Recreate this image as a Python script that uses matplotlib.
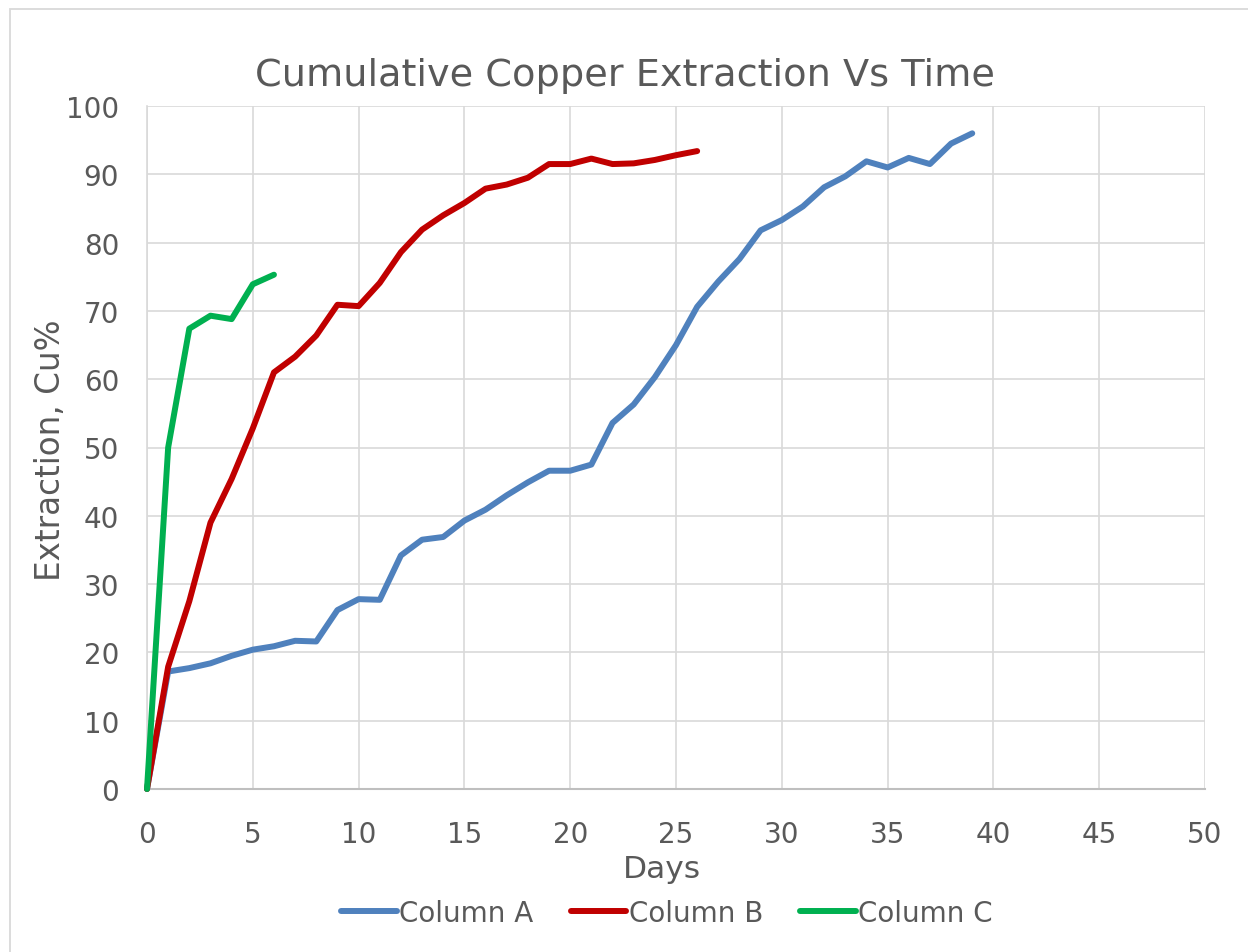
import matplotlib
matplotlib.use('Agg')
import matplotlib.pyplot as plt
from matplotlib.patches import Rectangle

plt.rcParams['font.family'] = ['DejaVu Sans']

# data
days_a = list(range(40))
col_a = [0, 17.2, 17.7, 18.4, 19.5, 20.4, 20.9, 21.7, 21.6, 26.2,
         27.8, 27.7, 34.2, 36.5, 36.9, 39.3, 40.9, 43.0, 44.9, 46.6,
         46.6, 47.5, 53.6, 56.3, 60.3, 65.0, 70.6, 74.3, 77.6, 81.8,
         83.3, 85.3, 88.1, 89.7, 91.9, 91.0, 92.4, 91.5, 94.5, 96.0]
days_b = list(range(27))
col_b = [0, 17.9, 27.5, 39.0, 45.4, 52.8, 61.0, 63.3, 66.4, 70.9,
         70.7, 74.1, 78.6, 81.9, 84.0, 85.8, 87.9, 88.5, 89.5, 91.5,
         91.5, 92.3, 91.5, 91.6, 92.1, 92.8, 93.4]
days_c = list(range(7))
col_c = [0, 50.0, 67.4, 69.3, 68.8, 73.9, 75.3]

series = [
    (days_a, col_a, 'Column A', '#4F81BD'),
    (days_b, col_b, 'Column B', '#C00000'),
    (days_c, col_c, 'Column C', '#00B050'),
]
x_ticks = list(range(0, 51, 5))
y_ticks = list(range(0, 101, 10))

text_color = '#595959'
grid_color = '#d9d9d9'

fig = plt.figure(figsize=(12.48, 9.53), dpi=100)
W, H = 1248, 953
ax = fig.add_axes([147 / W, 1 - 790 / H, (1205 - 147) / W, (790 - 107) / H])

# outer chart border
fig.patches.append(Rectangle((10 / W, -0.1), 1.2, 1.1 - 10 / H, transform=fig.transFigure,
                             fill=False, edgecolor=grid_color, linewidth=1.3))

for x, y, label, color in series:
    ax.plot(x, y, color=color, linewidth=4.3, label=label,
            solid_capstyle='round', solid_joinstyle='round', clip_on=False, zorder=3)

ax.set_xlim(0, 50)
ax.set_ylim(0, 100)
ax.set_xticks(x_ticks)
ax.set_yticks(y_ticks)
ax.grid(True, color=grid_color, linewidth=1.2)
ax.set_axisbelow(True)
for side in ['top', 'right']:
    ax.spines[side].set_visible(False)
ax.spines['left'].set_color(grid_color)
ax.spines['left'].set_linewidth(1.2)
ax.spines['bottom'].set_color('#bfbfbf')
ax.spines['bottom'].set_linewidth(1.5)
ax.tick_params(length=0, labelsize=20, labelcolor=text_color)
ax.tick_params(axis='x', pad=22)
ax.tick_params(axis='y', pad=20)

fig.text(625 / W, 1 - 76 / H, 'Cumulative Copper Extraction Vs Time',
         ha='center', va='center', fontsize=27.5, color=text_color)
fig.text(662 / W, 1 - 870 / H, 'Days', ha='center', va='center',
         fontsize=22.5, color=text_color)
fig.text(50 / W, 1 - 450 / H, 'Extraction, Cu%', ha='center', va='center',
         rotation=90, fontsize=23.5, color=text_color)

fig.legend(loc='center', bbox_to_anchor=(667 / W, 1 - 914 / H), ncol=3, frameon=False,
           fontsize=20, handlelength=2.0, handletextpad=0.08, columnspacing=1.35,
           labelcolor=text_color)

fig.savefig('out.png', dpi=100)
